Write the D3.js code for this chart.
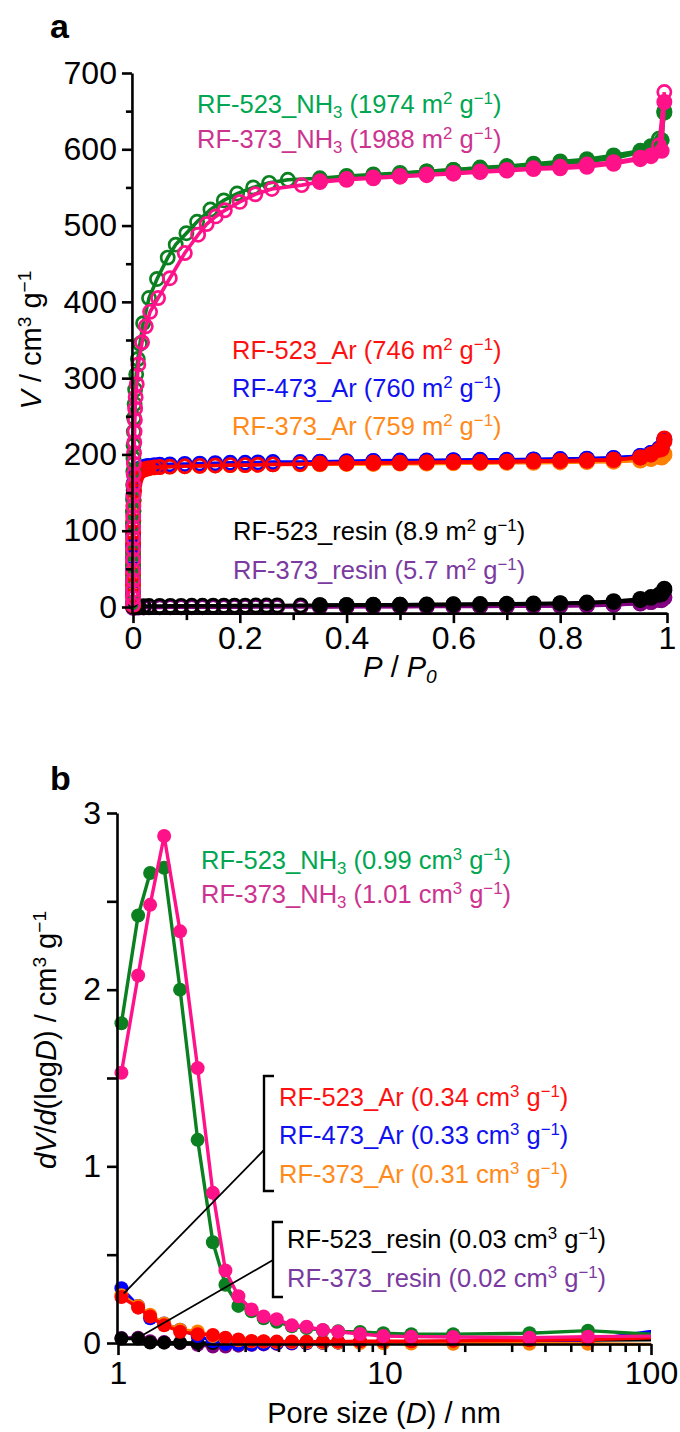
<!DOCTYPE html>
<html>
<head>
<meta charset="utf-8">
<script src="https://cdn.jsdelivr.net/npm/d3@7"></script>
<style>
  body { margin: 0; background: #fff; }
  svg { display: block; font-family: "Liberation Sans", Arial, sans-serif; }
</style>
</head>
<body>
<svg id="fig" width="680" height="1432"></svg>
<script>
// ---------------- Panel a: sorption isotherms (V vs P/P0) ----------------
// Shared relative-pressure grids for the upper part of the adsorption branch
// and for the desorption branch.
const highP = [0.35, 0.4, 0.45, 0.5, 0.55, 0.6, 0.65, 0.7, 0.75, 0.8, 0.85, 0.9, 0.95, 0.97, 0.985, 0.995];
const desP  = [0.995, 0.99, 0.97, 0.95, 0.9, 0.85, 0.8, 0.75, 0.7, 0.65, 0.6, 0.55, 0.5, 0.45, 0.4, 0.35];

// RF-523_NH3
const nh3523LowP  = [0.000005, 0.00001, 0.00002, 0.00004, 0.00007, 0.0001, 0.00015, 0.0002, 0.0003, 0.0004, 0.0006, 0.0008, 0.001, 0.0015, 0.002, 0.003, 0.004, 0.006, 0.009, 0.013, 0.019, 0.03, 0.045, 0.065, 0.08, 0.1, 0.12, 0.145, 0.17, 0.195, 0.225, 0.255, 0.29];
const nh3523LowV  = [6, 22, 38, 55, 72, 90, 108, 125, 142, 160, 178, 195, 212, 230, 248, 266, 285, 305, 325, 345, 372, 405, 430, 458, 475, 490, 505, 521, 533, 542, 550, 556, 560];
const nh3523HighV = [562, 565, 567, 569, 571, 573, 575, 577, 579, 581, 584, 588, 596, 604, 614, 650];
const nh3523DesV  = [648, 612, 603, 598, 592, 587, 584, 581, 578, 576, 573, 571, 568, 566, 563, 559];

// RF-373_NH3
const nh3373LowP  = [0.000005, 0.00001, 0.00002, 0.00004, 0.00007, 0.0001, 0.00015, 0.0002, 0.0003, 0.0004, 0.0006, 0.0008, 0.001, 0.0013, 0.0016, 0.002, 0.0025, 0.003, 0.0035, 0.004, 0.005, 0.007, 0.01, 0.017, 0.024, 0.032, 0.047, 0.069, 0.097, 0.122, 0.138, 0.155, 0.172, 0.2, 0.229, 0.26, 0.316];
const nh3373LowV  = [3, 12, 22, 35, 48, 62, 76, 90, 104, 118, 132, 146, 160, 174, 188, 202, 216, 230, 245, 260, 275, 292, 318, 347, 368, 387, 405, 431, 464, 488, 502, 512, 520, 531, 541, 548, 553];
const nh3373HighV = [557, 560, 562, 564, 566, 568, 570, 572, 574, 575, 577, 581, 587, 592, 605, 675];
const nh3373DesV  = [662, 598, 591, 589, 583, 580, 577, 575, 573, 571, 569, 567, 565, 563, 561, 558];

// Ar-treated samples share the low-pressure grid
const arLowP = [0.000005, 0.00001, 0.00002, 0.00004, 0.00007, 0.0001, 0.0002, 0.0003, 0.0005, 0.0008, 0.0012, 0.002, 0.003, 0.005, 0.008, 0.012, 0.016, 0.02, 0.025, 0.03, 0.04, 0.05, 0.069, 0.097, 0.125, 0.154, 0.182, 0.21, 0.234, 0.262, 0.313];
const ar523LowV  = [2, 14, 28, 42, 56, 70, 84, 98, 112, 126, 140, 152, 162, 168, 173, 177, 179, 180, 181, 182, 183, 183.5, 184, 184.5, 185, 185.5, 186, 186, 186.5, 187, 187.5];
const ar523HighV = [188, 188.5, 189, 189, 189.5, 190, 190, 190.5, 191, 191.5, 192, 193, 196, 200, 206, 221];
const ar523DesV  = [217, 207, 200, 196, 193, 192, 191.5, 191, 190.5, 190, 190, 189.5, 189, 189, 188.5, 188];
const ar473LowV  = [5, 20, 35, 50, 65, 80, 95, 110, 125, 140, 153, 163, 170, 175, 179, 181, 182.5, 183.5, 184.5, 185, 186, 186.5, 187, 187.5, 188, 188.5, 189, 189, 189.5, 190, 190];
const ar473HighV = [190.5, 191, 191.5, 192, 192, 192.5, 193, 193, 193.5, 194, 194.5, 195.5, 198, 202, 208, 220];
const ar473DesV  = [219, 209, 202, 198, 195, 194, 193.5, 193, 192.5, 192, 192, 191.5, 191, 191, 190.5, 190];
const ar373LowV  = [3, 16, 30, 45, 60, 75, 90, 105, 120, 134, 147, 158, 166, 171, 175, 178, 179.5, 180.5, 181.5, 182, 183, 183.5, 184, 184.5, 185, 185.5, 186, 186, 186.5, 187, 187];
const ar373HighV = [187.5, 188, 188, 188.5, 189, 189, 189.5, 190, 190, 190.5, 191, 191.5, 193, 195, 197, 201];
const ar373DesV  = [199, 196, 194, 192, 190.5, 190, 189.5, 189, 189, 188.5, 188.5, 188, 188, 187.5, 187.5, 187];

// Resins
const resinLowP = [0.0002, 0.004, 0.01, 0.02, 0.03, 0.05, 0.07, 0.09, 0.11, 0.13, 0.15, 0.17, 0.19, 0.21, 0.23, 0.25, 0.27, 0.314];
const resin523LowV  = [0.5, 1, 1.1, 1.2, 1.3, 1.4, 1.5, 1.5, 1.6, 1.6, 1.7, 1.7, 1.8, 1.8, 1.9, 1.9, 2, 2.1];
const resin523HighV = [2.3, 2.5, 2.7, 2.9, 3.1, 3.3, 3.5, 3.8, 4.1, 4.6, 5.3, 6.6, 9, 12, 16, 24];
const resin523DesV  = [22, 17, 13, 10.5, 7.5, 5.8, 5, 4.5, 4.1, 3.8, 3.5, 3.2, 3, 2.8, 2.6, 2.4];
const resin373LowV  = [-1, -0.8, -0.7, -0.6, -0.5, -0.5, -0.4, -0.4, -0.3, -0.3, -0.2, -0.2, -0.1, -0.1, 0, 0, 0, 0.1];
const resin373HighV = [0.2, 0.3, 0.4, 0.5, 0.6, 0.7, 0.8, 0.9, 1.0, 1.3, 1.8, 2.8, 4.5, 6.5, 9, 13];
const resin373DesV  = [12, 9, 6.5, 4.8, 3, 2.2, 1.8, 1.5, 1.3, 1.1, 1, 0.9, 0.8, 0.7, 0.6, 0.5];

const isoTicks = [0, 100, 200, 300, 400, 500, 600, 700];
const isoMinor = [50, 150, 250, 350, 450, 550, 650];
const pTicks = [0, 0.2, 0.4, 0.6, 0.8, 1];
const pMinor = [0.1, 0.3, 0.5, 0.7, 0.9];

// ---------------- Panel b: pore size distributions ----------------
const poreD = [1.03, 1.19, 1.32, 1.49, 1.71, 1.99, 2.27, 2.53, 2.83, 3.17, 3.52, 3.94, 4.49, 5.1, 5.87, 6.7, 8.1, 9.9, 12.6, 18.1, 35, 58, 130];
const psdNh3523  = [1.81, 2.42, 2.66, 2.69, 2.0, 1.15, 0.57, 0.33, 0.21, 0.18, 0.14, 0.12, 0.095, 0.085, 0.072, 0.066, 0.062, 0.055, 0.05, 0.05, 0.055, 0.07, 0.04];
const psdNh3373  = [1.53, 2.08, 2.48, 2.87, 2.33, 1.556, 0.85, 0.41, 0.265, 0.19, 0.15, 0.135, 0.10, 0.092, 0.074, 0.064, 0.051, 0.04, 0.036, 0.034, 0.03, 0.036, 0.04];
const psdAr523   = [0.26, 0.2, 0.15, 0.10, 0.064, 0.05, 0.045, 0.03, 0.02, 0.012, 0.01, 0.008, 0.008, 0.008, 0.008, 0.008, 0.01, 0.01, 0.01, 0.012, 0.015, 0.02, 0.035];
const psdAr473   = [0.31, 0.21, 0.14, 0.11, 0.075, 0.04, 0.01, -0.005, -0.008, -0.008, -0.005, -0.002, 0.0, 0.002, 0.003, 0.003, 0.004, 0.005, 0.006, 0.008, 0.01, 0.015, 0.09];
const psdAr373   = [0.27, 0.21, 0.16, 0.11, 0.075, 0.065, 0.04, 0.025, 0.015, 0.01, 0.008, 0.006, 0.005, 0.004, 0.003, 0.002, 0.0, -0.002, -0.003, -0.004, -0.004, -0.004, -0.01];
const psdRes523  = [0.025, 0.025, 0.003, 0.002, 0.001, 0.0, 0.0, 0.002, 0.003, 0.004, 0.004, 0.004, 0.004, 0.004, 0.004, 0.004, 0.005, 0.006, 0.007, 0.008, 0.012, 0.016, 0.02];
const psdRes373  = [0.028, 0.03, 0.01, 0.005, 0.0, -0.01, -0.02, -0.02, -0.015, -0.01, -0.008, -0.005, -0.003, -0.002, 0.0, 0.002, 0.004, 0.006, 0.008, 0.01, 0.015, 0.02, 0.03];

const psdTicks = [0, 1, 2, 3];
const psdMinor = [0.5, 1.5, 2.5];
const dTicks = [1, 10, 100];
const dMinor = [2, 3, 4, 5, 6, 7, 8, 9, 20, 30, 40, 50, 60, 70, 80, 90];

// Sample names and the values quoted beside them
const isoLabels = [
  ["RF-523_NH", "3", " (1974 m", "2", " g", "−1", ")"],
  ["RF-373_NH", "3", " (1988 m", "2", " g", "−1", ")"],
  ["RF-523_Ar", "", " (746 m", "2", " g", "−1", ")"],
  ["RF-473_Ar", "", " (760 m", "2", " g", "−1", ")"],
  ["RF-373_Ar", "", " (759 m", "2", " g", "−1", ")"],
  ["RF-523_resin", "", " (8.9 m", "2", " g", "−1", ")"],
  ["RF-373_resin", "", " (5.7 m", "2", " g", "−1", ")"]
];
const psdLabels = [
  ["RF-523_NH", "3", " (0.99 cm", "3", " g", "−1", ")"],
  ["RF-373_NH", "3", " (1.01 cm", "3", " g", "−1", ")"],
  ["RF-523_Ar", "", " (0.34 cm", "3", " g", "−1", ")"],
  ["RF-473_Ar", "", " (0.33 cm", "3", " g", "−1", ")"],
  ["RF-373_Ar", "", " (0.31 cm", "3", " g", "−1", ")"],
  ["RF-523_resin", "", " (0.03 cm", "3", " g", "−1", ")"],
  ["RF-373_resin", "", " (0.02 cm", "3", " g", "−1", ")"]
];

// ---------------- styling ----------------
const markColor = {
  nh3523: "#0b8020", nh3373: "#ff1289", ar523: "#ff0000", ar473: "#0000ff",
  ar373: "#ff8000", res523: "#000000", res373: "#800080"
};
const textColor = {
  nh3523: "#00a650", nh3373: "#cc3390", ar523: "#ff1010", ar473: "#1010f0",
  ar373: "#ff8a1a", res523: "#000000", res373: "#7a3aa0"
};
const FS_TICK = 32, FS_TITLE = 29, FS_LEG = 25.5;

const svg = d3.select("#fig");

// rich text with italics / sub / superscripts
function rich(textSel, segs, fs) {
  let cur = 0;
  segs.forEach(s => {
    if (s.t === "") return;
    const target = s.sup ? -0.36 * fs : s.sub ? 0.2 * fs : 0;
    const t = textSel.append("tspan").text(s.t);
    if (target !== cur) t.attr("dy", target - cur);
    if (s.sup || s.sub) t.attr("font-size", fs * 0.66);
    if (s.it) t.attr("font-style", "italic");
    cur = target;
  });
}
function labelSegs(parts) {
  return [
    { t: parts[0] }, { t: parts[1], sub: true }, { t: parts[2] },
    { t: parts[3], sup: true }, { t: parts[4] }, { t: parts[5], sup: true }, { t: parts[6] }
  ];
}
function styleAxis(g) {
  g.selectAll("path.domain").attr("stroke", "#000").attr("stroke-width", 2.6);
  g.selectAll(".tick line").attr("stroke", "#000").attr("stroke-width", 2.6);
  g.selectAll(".tick text").attr("font-size", FS_TICK).attr("fill", "#000")
    .attr("font-family", '"Liberation Sans", Arial, sans-serif');
}

// ================= Panel a =================
const xA = d3.scaleLinear().domain([0, 1]).range([133, 667]);
const yA = d3.scaleLinear().domain([0, 700]).range([607, 73]);
const axisYA = yA(-8);    // x-axis sits just below zero uptake
const axisXA = xA(-0.002);

function branch(P, V) { return P.map((p, i) => [p, V[i]]); }
const isoSeries = [
  { id: "res373", ads: branch(resinLowP.concat(highP), resin373LowV.concat(resin373HighV)), des: branch(desP, resin373DesV) },
  { id: "res523", ads: branch(resinLowP.concat(highP), resin523LowV.concat(resin523HighV)), des: branch(desP, resin523DesV) },
  { id: "ar373",  ads: branch(arLowP.concat(highP), ar373LowV.concat(ar373HighV)), des: branch(desP, ar373DesV) },
  { id: "ar473",  ads: branch(arLowP.concat(highP), ar473LowV.concat(ar473HighV)), des: branch(desP, ar473DesV) },
  { id: "ar523",  ads: branch(arLowP.concat(highP), ar523LowV.concat(ar523HighV)), des: branch(desP, ar523DesV) },
  { id: "nh3523", ads: branch(nh3523LowP.concat(highP), nh3523LowV.concat(nh3523HighV)), des: branch(desP, nh3523DesV) },
  { id: "nh3373", ads: branch(nh3373LowP.concat(highP), nh3373LowV.concat(nh3373HighV)), des: branch(desP, nh3373DesV) }
];

const gA = svg.append("g");
const lineA = d3.line().x(d => xA(d[0])).y(d => yA(d[1]));

isoSeries.forEach(s => {
  const c = markColor[s.id];
  const g = gA.append("g");
  g.append("path").datum(s.ads).attr("d", lineA).attr("fill", "none").attr("stroke", c).attr("stroke-width", 3.6);
  g.append("path").datum(s.des).attr("d", lineA).attr("fill", "none").attr("stroke", c).attr("stroke-width", 3.6);
  g.selectAll("circle.o").data(s.ads).join("circle").attr("class", "o")
    .attr("cx", d => xA(d[0])).attr("cy", d => yA(d[1])).attr("r", 6.6)
    .attr("fill", "none").attr("stroke", c).attr("stroke-width", 2.7);
  g.selectAll("circle.f").data(s.des).join("circle").attr("class", "f")
    .attr("cx", d => xA(d[0])).attr("cy", d => yA(d[1])).attr("r", 8)
    .attr("fill", c);
});

// axes a
const yAaxisScale = yA.copy().domain([yA.invert(axisYA), 700]).range([axisYA, yA(700)]);
gA.append("g").attr("transform", `translate(${axisXA},0)`)
  .call(d3.axisLeft(yAaxisScale).tickValues(isoTicks).tickSize(10).tickSizeOuter(0).tickPadding(5).tickFormat(d3.format("d")))
  .call(styleAxis);
gA.append("g").attr("transform", `translate(${axisXA},0)`)
  .call(d3.axisLeft(yA).tickValues(isoMinor).tickSize(6).tickSizeOuter(0).tickFormat(""))
  .call(g => g.select("path.domain").remove()).call(styleAxis);
gA.append("g").attr("transform", `translate(0,${axisYA})`)
  .call(d3.axisBottom(xA).tickValues(pTicks).tickSize(10).tickSizeOuter(0).tickPadding(3).tickFormat(d => d === 0 || d === 1 ? d3.format("d")(d) : d3.format(".1f")(d)))
  .call(styleAxis);
gA.append("g").attr("transform", `translate(0,${axisYA})`)
  .call(d3.axisBottom(xA).tickValues(pMinor).tickSize(7).tickSizeOuter(0).tickFormat(""))
  .call(g => g.select("path.domain").remove()).call(styleAxis);

// axis titles a
rich(svg.append("text").attr("x", 400).attr("y", 677).attr("text-anchor", "middle").attr("font-size", FS_TITLE),
  [{ t: "P", it: true }, { t: " / " }, { t: "P", it: true }, { t: "0", sub: true, it: true }], FS_TITLE);
rich(svg.append("text").attr("transform", "translate(41,340) rotate(-90)").attr("text-anchor", "middle").attr("font-size", FS_TITLE),
  [{ t: "V", it: true }, { t: " / cm" }, { t: "3", sup: true }, { t: " g" }, { t: "−1", sup: true }], FS_TITLE);

// legends a
const isoLegendPos = [
  ["nh3523", 197, 113], ["nh3373", 197, 148], ["ar523", 232, 359], ["ar473", 232, 397],
  ["ar373", 232, 435], ["res523", 233, 540], ["res373", 233, 579]
];
isoLegendPos.forEach((p, i) => {
  rich(svg.append("text").attr("x", p[1]).attr("y", p[2]).attr("font-size", FS_LEG).attr("fill", textColor[p[0]]),
    labelSegs(isoLabels[i]), FS_LEG);
});

svg.append("text").attr("x", 50).attr("y", 38).attr("font-size", 34).attr("font-weight", "bold").text("a");

// ================= Panel b =================
const xB = d3.scaleLog().domain([1, 100]).range([118, 651]);
const yB = d3.scaleLinear().domain([0, 3]).range([1343, 813]);
const axisYB = yB(-0.006);
const axisXB = 117;

svg.append("clipPath").attr("id", "clipB").append("rect")
  .attr("x", 0).attr("y", 780).attr("width", xB(100)).attr("height", 600);

const psdSeries = [
  { id: "res373", v: psdRes373 }, { id: "res523", v: psdRes523 },
  { id: "ar473", v: psdAr473 }, { id: "ar373", v: psdAr373 }, { id: "ar523", v: psdAr523 },
  { id: "nh3523", v: psdNh3523 }, { id: "nh3373", v: psdNh3373 }
];
const gB = svg.append("g").attr("clip-path", "url(#clipB)");
const lineB = d3.line().x(d => xB(d[0])).y(d => yB(d[1]));
psdSeries.forEach(s => {
  const c = markColor[s.id];
  const pts = poreD.map((d, i) => [d, s.v[i]]);
  gB.append("path").datum(pts).attr("d", lineB).attr("fill", "none").attr("stroke", c).attr("stroke-width", 3.4);
  gB.selectAll(null).data(pts).join("circle")
    .attr("cx", d => xB(d[0])).attr("cy", d => yB(d[1])).attr("r", 7).attr("fill", c);
});

const yBaxisScale = yB.copy().domain([yB.invert(axisYB), 3]).range([axisYB, yB(3)]);
svg.append("g").attr("transform", `translate(${axisXB},0)`)
  .call(d3.axisLeft(yBaxisScale).tickValues(psdTicks).tickSize(10).tickSizeOuter(0).tickPadding(6).tickFormat(d3.format("d")))
  .call(styleAxis);
svg.append("g").attr("transform", `translate(${axisXB},0)`)
  .call(d3.axisLeft(yB).tickValues(psdMinor).tickSize(10).tickSizeOuter(0).tickFormat(""))
  .call(g => g.select("path.domain").remove()).call(styleAxis);
svg.append("g").attr("transform", `translate(0,${axisYB})`)
  .call(d3.axisBottom(xB).tickValues(dTicks).tickSize(11).tickSizeOuter(0).tickPadding(6).tickFormat(d3.format("d")))
  .call(styleAxis);
svg.append("g").attr("transform", `translate(0,${axisYB})`)
  .call(d3.axisBottom(xB).tickValues(dMinor).tickSize(8).tickSizeOuter(0).tickFormat(""))
  .call(g => g.select("path.domain").remove()).call(styleAxis);

rich(svg.append("text").attr("x", 384).attr("y", 1423).attr("text-anchor", "middle").attr("font-size", FS_TITLE),
  [{ t: "Pore size (" }, { t: "D", it: true }, { t: ") / nm" }], FS_TITLE);
rich(svg.append("text").attr("transform", "translate(56,1040) rotate(-90)").attr("text-anchor", "middle").attr("font-size", FS_TITLE),
  [{ t: "d", it: true }, { t: "V", it: true }, { t: "/" }, { t: "d", it: true }, { t: "(log" }, { t: "D", it: true },
   { t: ") / cm" }, { t: "3", sup: true }, { t: " g" }, { t: "−1", sup: true }], FS_TITLE);

// legends b
const psdLegendPos = [
  ["nh3523", 201, 869], ["nh3373", 201, 903], ["ar523", 279, 1106], ["ar473", 279, 1144],
  ["ar373", 279, 1183], ["res523", 287, 1248], ["res373", 287, 1287]
];
psdLegendPos.forEach((p, i) => {
  rich(svg.append("text").attr("x", p[1]).attr("y", p[2]).attr("font-size", FS_LEG).attr("fill", textColor[p[0]]),
    labelSegs(psdLabels[i]), FS_LEG);
});

// brackets grouping the Ar and resin labels, with leader lines to their curves
function bracket(x, y0, y1, arm) {
  svg.append("path").attr("d", `M${x + arm},${y0}H${x}V${y1}H${x + arm}`)
    .attr("fill", "none").attr("stroke", "#000").attr("stroke-width", 2.4);
}
bracket(264, 1076, 1191, 10);
bracket(273, 1222, 1297, 10);
svg.append("line").attr("x1", 264).attr("y1", 1150).attr("x2", xB(1.05)).attr("y2", yB(0.28))
  .attr("stroke", "#000").attr("stroke-width", 1.8);
svg.append("line").attr("x1", 273).attr("y1", 1260).attr("x2", xB(1.24)).attr("y2", yB(0.045))
  .attr("stroke", "#000").attr("stroke-width", 1.8);

svg.append("text").attr("x", 50).attr("y", 790).attr("font-size", 34).attr("font-weight", "bold").text("b");
</script>
</body>
</html>
